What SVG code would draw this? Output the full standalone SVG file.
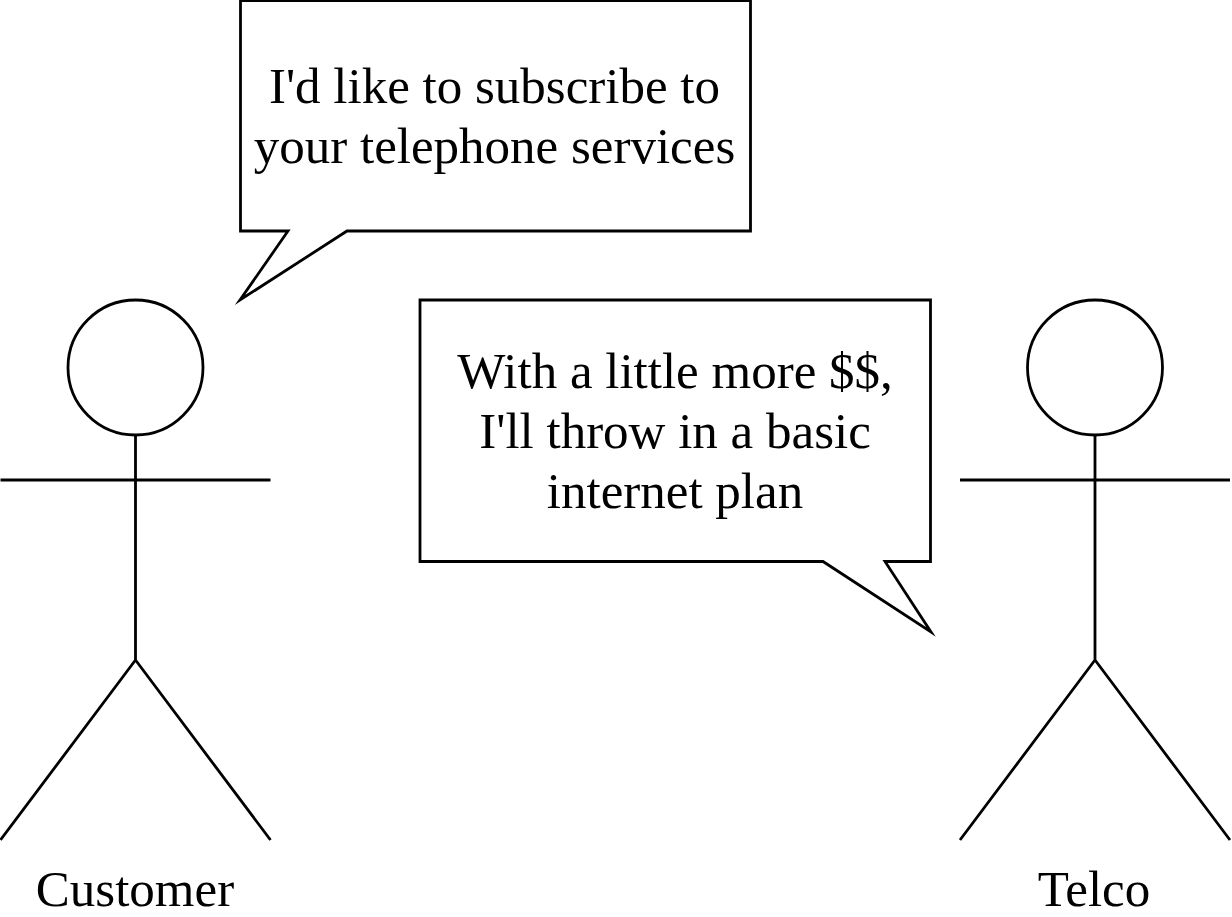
<svg xmlns="http://www.w3.org/2000/svg" width="1232" height="917" viewBox="0 0 1232 917">
<style>
.s{fill:#fff;stroke:#000;stroke-width:2.8;stroke-miterlimit:10}
.l{fill:none;stroke:#000;stroke-width:2.8}
text{font-family:"Liberation Serif","Times New Roman",serif;font-size:51px;fill:#000;text-anchor:middle}
</style>
<rect width="1232" height="917" fill="#fff"/>
<g id="customer">
<circle class="s" cx="135.500" cy="367.500" r="67.500"/>
<path class="l" d="M135.500 435V660M0.500 480H270.500M0.500 840L135.500 660L270.500 840"/>
<text x="135" y="906">Customer</text>
</g>
<g id="telco">
<circle class="s" cx="1095" cy="367.500" r="67.500"/>
<path class="l" d="M1095 435V660M960 480H1230M960 840L1095 660L1230 840"/>
<text x="1094" y="906">Telco</text>
</g>
<g id="bubble1">
<path class="s" d="M240.500 0.500H750.500V231H347L240 300L288 231H240.500Z"/>
<text x="494.500" y="103">I'd like to subscribe to</text>
<text x="494.500" y="163">your telephone services</text>
</g>
<g id="bubble2">
<path class="s" d="M420 300H930.500V561.500H885L931 632L823 561.500H420Z"/>
<text x="675" y="388">With a little more $$,</text>
<text x="675" y="448">I'll throw in a basic</text>
<text x="675" y="508">internet plan</text>
</g>
<g id="connectors"></g>
</svg>
